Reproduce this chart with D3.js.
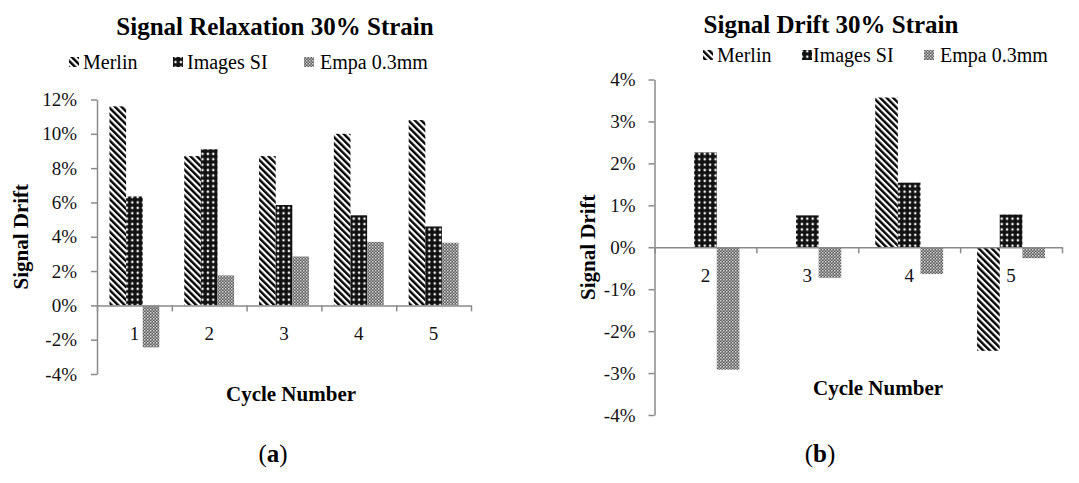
<!DOCTYPE html>
<html>
<head>
<meta charset="utf-8">
<script src="https://cdn.jsdelivr.net/npm/d3@7"></script>
<style>
body { margin: 0; background: #fff; }
text { font-family: "Liberation Serif", "Times New Roman", serif; }
</style>
</head>
<body>
<svg id="fig" width="1079" height="483"></svg>
<script>
// series shared by both panels
const seriesNames = ['Merlin', 'Images SI', 'Empa 0.3mm'];
const patternIds = ['pMerlin', 'pImages', 'pEmpa'];

// (a) signal relaxation, values in %
const relaxCycles = ['1', '2', '3', '4', '5'];
const relaxMerlin = [11.6, 8.7, 8.7, 10.0, 10.8];
const relaxImages = [6.35, 9.1, 5.85, 5.25, 4.6];
const relaxEmpa = [-2.45, 1.75, 2.85, 3.7, 3.65];
const relaxTicks = [-4, -2, 0, 2, 4, 6, 8, 10, 12];

// (b) signal drift, values in % (null = no bar)
const driftCycles = ['2', '3', '4', '5'];
const driftMerlin = [null, null, 3.57, -2.47];
const driftImages = [2.26, 0.76, 1.54, 0.78];
const driftEmpa = [-2.92, -0.73, -0.64, -0.26];
const driftTicks = [-4, -3, -2, -1, 0, 1, 2, 3, 4];

const svg = d3.select('#fig');
const defs = svg.append('defs');

// wide downward diagonal
const pm = defs.append('pattern').attr('id', 'pMerlin')
    .attr('patternUnits', 'userSpaceOnUse')
    .attr('width', 4.6).attr('height', 4.6)
    .attr('patternTransform', 'rotate(-45)');
pm.append('rect').attr('width', 4.6).attr('height', 4.6).attr('fill', '#fff');
pm.append('rect').attr('width', 2.4).attr('height', 4.6).attr('fill', '#000');

// black with white dots
const pi = defs.append('pattern').attr('id', 'pImages')
    .attr('patternUnits', 'userSpaceOnUse')
    .attr('width', 5.4).attr('height', 5.4);
pi.append('rect').attr('width', 5.4).attr('height', 5.4).attr('fill', '#111');
pi.append('circle').attr('cx', 2.7).attr('cy', 2.7).attr('r', 1.3).attr('fill', '#f4f4f4');

// small grey checker
const pe = defs.append('pattern').attr('id', 'pEmpa')
    .attr('patternUnits', 'userSpaceOnUse')
    .attr('width', 3).attr('height', 3);
pe.append('rect').attr('width', 3).attr('height', 3).attr('fill', '#5c5c5c');
pe.append('rect').attr('width', 1.5).attr('height', 1.5).attr('fill', '#d8d8d8');
pe.append('rect').attr('x', 1.5).attr('y', 1.5).attr('width', 1.5).attr('height', 1.5).attr('fill', '#b0b0b0');

function drawChart(opt) {
    const g = svg.append('g');
    const n = opt.cycles.length;

    const x = d3.scaleBand().domain(opt.cycles).range([opt.left, opt.right]);
    const xs = d3.scaleBand().domain(seriesNames).range([0, x.bandwidth()]).paddingOuter(0.75);
    const y = d3.scaleLinear()
        .domain([opt.ticks[0], opt.ticks[opt.ticks.length - 1]])
        .range([opt.bottom, opt.top]);

    // bars
    opt.series.forEach((vals, i) => {
        const rows = opt.cycles.map((c, j) => ({c: c, v: vals[j]})).filter(d => d.v !== null);
        g.selectAll(null).data(rows).enter().append('rect')
            .attr('x', d => x(d.c) + xs(seriesNames[i]))
            .attr('y', d => y(Math.max(0, d.v)))
            .attr('width', xs.bandwidth())
            .attr('height', d => Math.abs(y(d.v) - y(0)))
            .attr('fill', `url(#${patternIds[i]})`);
    });

    // y axis
    const ya = g.append('g').attr('transform', `translate(${opt.left},0)`)
        .call(d3.axisLeft(y).tickValues(opt.ticks).tickFormat(d => d + '%')
            .tickSizeInner(6).tickSizeOuter(0).tickPadding(opt.yPad));

    // x axis line with ticks at category boundaries
    const xb = d3.scaleLinear().domain([0, n]).range([opt.left, opt.right]);
    const xa = g.append('g').attr('transform', `translate(0,${y(0)})`)
        .call(d3.axisBottom(xb).tickValues(d3.range(n + 1)).tickFormat('')
            .tickSizeInner(6).tickSizeOuter(0));

    // category labels
    const xl = g.append('g').attr('transform', `translate(0,${y(0)})`)
        .call(d3.axisBottom(x).tickSize(0).tickPadding(21));
    xl.select('.domain').remove();

    [ya, xa, xl].forEach(a => {
        a.attr('font-family', null).attr('font-size', 19);
        a.selectAll('path, line').attr('stroke', '#8a8a8a').attr('stroke-width', 1.5);
        a.selectAll('text').attr('fill', '#111');
    });

    // title
    g.append('text')
        .attr('x', opt.titleX).attr('y', opt.titleY)
        .attr('text-anchor', 'middle')
        .attr('font-size', 25).attr('font-weight', 'bold')
        .text(opt.title);

    // legend
    seriesNames.forEach((s, i) => {
        g.append('rect')
            .attr('x', opt.legSwatch[i]).attr('y', opt.legY - 12)
            .attr('width', 10).attr('height', 10)
            .attr('fill', `url(#${patternIds[i]})`);
        g.append('text')
            .attr('x', opt.legText[i]).attr('y', opt.legY)
            .attr('font-size', 20)
            .text(s);
    });

    // axis titles
    g.append('text')
        .attr('x', opt.xTitleX).attr('y', opt.xTitleY)
        .attr('text-anchor', 'middle')
        .attr('font-size', 21).attr('font-weight', 'bold')
        .text('Cycle Number');
    g.append('text')
        .attr('transform', `translate(${opt.yTitleX},${(opt.top + opt.bottom) / 2}) rotate(-90)`)
        .attr('text-anchor', 'middle')
        .attr('font-size', 21).attr('font-weight', 'bold')
        .text('Signal Drift');

    // panel label
    const lab = g.append('text')
        .attr('x', opt.labelX).attr('y', 462)
        .attr('text-anchor', 'middle')
        .attr('font-size', 25);
    lab.append('tspan').text('(');
    lab.append('tspan').attr('font-weight', 'bold').text(opt.label);
    lab.append('tspan').text(')');
}

drawChart({
    cycles: relaxCycles,
    series: [relaxMerlin, relaxImages, relaxEmpa],
    ticks: relaxTicks,
    left: 97, right: 471, top: 99.5, bottom: 374,
    yPad: 14,
    title: 'Signal Relaxation 30% Strain', titleX: 275, titleY: 35,
    legY: 69, legSwatch: [69, 173, 304], legText: [83, 187, 320],
    xTitleX: 291, xTitleY: 401, yTitleX: 28,
    label: 'a', labelX: 273
});

drawChart({
    cycles: driftCycles,
    series: [driftMerlin, driftImages, driftEmpa],
    ticks: driftTicks,
    left: 654.5, right: 1062, top: 79.5, bottom: 415,
    yPad: 13,
    title: 'Signal Drift 30% Strain', titleX: 831, titleY: 33,
    legY: 62, legSwatch: [703, 802, 924], legText: [717, 813, 940],
    xTitleX: 878, xTitleY: 395, yTitleX: 595,
    label: 'b', labelX: 820
});
</script>
</body>
</html>
